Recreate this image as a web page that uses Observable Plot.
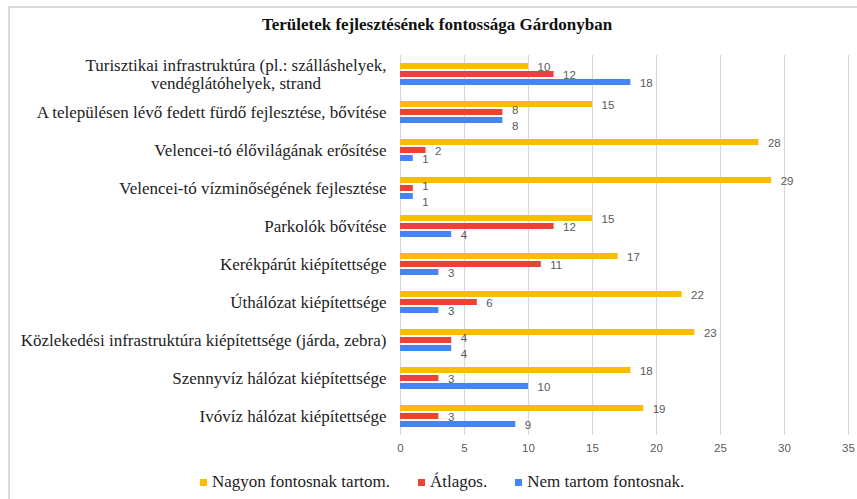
<!DOCTYPE html>
<html><head><meta charset="utf-8">
<script src="https://cdn.jsdelivr.net/npm/d3@7"></script>
<script src="https://cdn.jsdelivr.net/npm/@observablehq/plot@0.6"></script>
<style>
body{margin:0;background:#fff;width:857px;height:499px;overflow:hidden;position:relative;font-family:"Liberation Serif","Times New Roman",serif;}
#frame{position:absolute;left:8px;top:6px;width:900px;height:600px;border-top:2px solid #dadada;border-left:2px solid #dadada;}
#title{position:absolute;top:15px;left:17px;width:840px;text-align:center;font-weight:bold;font-size:17px;line-height:19px;color:#111;font-family:"Liberation Serif","Times New Roman",serif;}
#chart{position:absolute;top:36px;left:0;}
#legend{position:absolute;top:472px;left:200px;display:flex;gap:28px;font-size:17px;line-height:19px;color:#222;white-space:nowrap;font-family:"Liberation Serif","Times New Roman",serif;}
#legend .sw{display:inline-block;width:7px;height:7px;margin-right:5px;vertical-align:1px;}
</style></head>
<body>
<div id="frame"></div>
<div id="title">Területek fejlesztésének fontossága Gárdonyban</div>
<div id="chart"></div>
<div id="legend"></div>
<script>
const categories = [
  "Turisztikai infrastruktúra (pl.: szálláshelyek,\nvendéglátóhelyek, strand",
  "A településen lévő fedett fürdő fejlesztése, bővítése",
  "Velencei-tó élővilágának erősítése",
  "Velencei-tó vízminőségének fejlesztése",
  "Parkolók bővítése",
  "Kerékpárút kiépítettsége",
  "Úthálózat kiépítettsége",
  "Közlekedési infrastruktúra kiépítettsége (járda, zebra)",
  "Szennyvíz hálózat kiépítettsége",
  "Ivóvíz hálózat kiépítettsége"
];
const series = ["Nagyon fontosnak tartom.", "Átlagos.", "Nem tartom fontosnak."];
const nagyon = [10, 15, 28, 29, 15, 17, 22, 23, 18, 19];
const atlagos = [12, 8, 2, 1, 12, 11, 6, 4, 3, 3];
const nem = [18, 8, 1, 1, 4, 3, 3, 4, 10, 9];
const xTicks = [0, 5, 10, 15, 20, 25, 30, 35];
const colors = ["#FBBC04", "#EA4335", "#4285F4"];

const values = [nagyon, atlagos, nem];
const data = categories.flatMap((c, i) => series.map((s, j) => ({cat: c, s, v: values[j][i]})));

const chart = Plot.plot({
  width: 857, height: 430,
  marginLeft: 400, marginRight: 9, marginTop: 14, marginBottom: 27,
  style: {background: "transparent"},
  x: {domain: [0, 35], axis: null},
  y: {domain: series, paddingInner: 0.22, paddingOuter: 0.77, axis: null},
  fy: {domain: categories, paddingInner: 0, paddingOuter: 0},
  color: {domain: series, range: colors},
  marks: [
    Plot.gridX(xTicks, {stroke: "#d9d9d9", strokeOpacity: 1, strokeWidth: 1.2}),
    Plot.barX(data, {x: "v", y: "s", fy: "cat", fill: "s"}),
    Plot.text(data, {x: "v", y: "s", fy: "cat", text: "v", textAnchor: "start", dx: 9, dy: 1,
      fill: "#595959", fontSize: 11.5, fontFamily: "Liberation Sans, Arial, sans-serif",
      ariaLabel: () => "value-label"}),
    Plot.axisX(xTicks, {tickSize: 0, tickPadding: 8, label: null, fill: "#595959",
      fontSize: 11.5, fontFamily: "Liberation Sans, Arial, sans-serif"}),
    Plot.axisFy({anchor: "left", tickSize: 0, tickPadding: 14, label: null, fill: "#222", fontSize: 17,
      fontFamily: "Liberation Serif, Times New Roman, serif", lineHeight: 1.05})
  ]
});
document.getElementById("chart").appendChild(chart);

// center-align wrapped category label lines (as in the original)
chart.querySelectorAll("text").forEach(t => {
  const spans = t.querySelectorAll("tspan");
  if (spans.length > 1) {
    const ws = Array.from(spans, s => s.getComputedTextLength());
    const maxW = Math.max(...ws);
    spans.forEach((s, i) => s.setAttribute("x", -(maxW - ws[i]) / 2));
  }
});

// simple collision avoidance for value labels within a group
const labelTexts = Array.from(chart.querySelectorAll('[aria-label="value-label"]'))
  .flatMap(n => n.tagName.toLowerCase() === "text" ? [n] : Array.from(n.querySelectorAll("text")));
const groups = new Map();
labelTexts.forEach(t => {
  const p = t.parentNode;
  if (!groups.has(p)) groups.set(p, []);
  if (!groups.get(p).includes(t)) groups.get(p).push(t);
});
groups.forEach(texts => {
  for (let i = 1; i < texts.length; i++) {
    const a = texts[i - 1].getBoundingClientRect(), b = texts[i].getBoundingClientRect();
    if (Math.abs(a.top - b.top) > 14) continue;
    const hOverlap = a.left < b.right + 1 && b.left < a.right + 1;
    if (hOverlap) {
      texts[i - 1].setAttribute("transform", (texts[i - 1].getAttribute("transform") || "") + " translate(0,-3)");
      texts[i].setAttribute("transform", (texts[i].getAttribute("transform") || "") + " translate(0,5)");
    }
  }
});

const legend = document.getElementById("legend");
series.forEach((s, i) => {
  const item = document.createElement("span");
  item.innerHTML = `<span class="sw" style="background:${colors[i]}"></span>${s}`;
  legend.appendChild(item);
});
</script>
</body></html>
